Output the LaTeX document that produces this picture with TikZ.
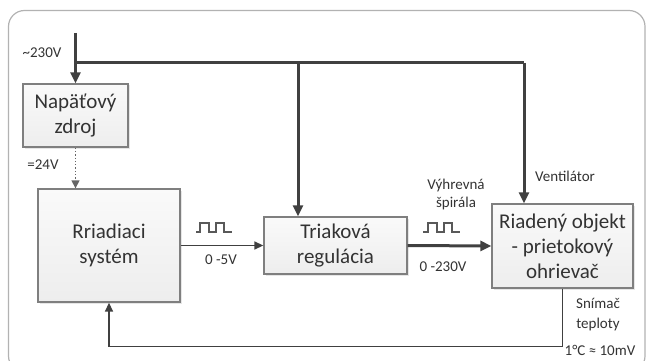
\documentclass[tikz,border=0pt]{standalone}
\usepackage{fontspec}
\setmainfont{Carlito}
\usetikzlibrary{arrows.meta,shadows}
\definecolor{ln}{HTML}{404040}
\definecolor{bd}{HTML}{7F7F7F}
\definecolor{tx}{HTML}{333333}
\tikzset{
  blk/.style={draw=bd, line width=1.3pt, top color=gray!4, bottom color=gray!14,
    inner sep=0pt, align=center, font=\fontsize{21}{25}\selectfont, text=tx,
    drop shadow={shadow xshift=1.5pt, shadow yshift=-1.5pt, opacity=0.2}},
  lbl/.style={font=\fontsize{15}{19}\selectfont, text=tx, inner sep=0pt, align=center},
  power/.style={draw=ln, line width=3pt, -{Triangle[length=11pt,width=10pt]}},
  bus/.style={draw=ln, line width=3pt},
  sig/.style={draw=ln, line width=1.4pt, -{Triangle[length=9pt,width=8pt]}},
  pulse/.style={draw=gray!70!black, line width=1.2pt},
}
\begin{document}
\begin{tikzpicture}[x=1pt,y=-1pt]
\useasboundingbox (0,0) rectangle (646,361);
\begin{scope}
\clip (0,0) rectangle (646,361);
\draw[gray!60, line width=1.2pt, rounded corners=16pt] (8.5,10.5) rectangle (645,372);
\end{scope}

% blocks
\node[blk, minimum width=105pt, minimum height=63pt] (nap) at (75.5,115.5) {Napäťový\\zdroj};
\node[blk, minimum width=142pt, minimum height=113pt] (rs) at (109,245.5) {Rriadiaci\\systém};
\node[blk, minimum width=143pt, minimum height=57pt] (tri) at (335.5,245.5) {Triaková\\regulácia};
\node[blk, minimum width=141pt, minimum height=84pt] (obj) at (562.5,246) {Riadený objekt\\- prietokový\\ohrievač};

% power lines
\coordinate (in) at (75.5,33);
\coordinate (j1) at (75.5,63);
\coordinate (j2) at (298,63);
\coordinate (j3) at (524,63);
\draw[power] (in) -- (nap.north);
\draw[bus] (j1) -- (j3);
\draw[power] (j2) -- (j2 |- tri.north);
\draw[power] (j3) -- (j3 |- obj.north);

% dotted supply
\draw[draw=ln!80, line width=1.3pt, dotted, -{Triangle[length=8pt,width=8pt]}] (nap.south) -- (nap.south |- rs.north);

% signals
\draw[sig] (rs.east) -- (tri.west);
\draw[power] (tri.east) -- (obj.west);
\draw[sig] (obj.south) -- ++(0,58) -| (rs.south);

% pulses
\draw[pulse] (196,232) -- (200,232) -- (200,223) -- (209,223) -- (209,232) -- (216,232) -- (216,223) -- (224,223) -- (224,232) -- (232,232);
\draw[pulse] (423,232) -- (428,232) -- (428,223) -- (437,223) -- (437,232) -- (444,232) -- (444,223) -- (452,223) -- (452,232) -- (460,232);

% labels
\node[lbl] (l230) at (42,53) {\textasciitilde230V};
\node[lbl] (l24) at (43,165) {=24V};
\node[lbl] (l5) at (221,260) {0 -5V};
\node[lbl] (lvs) at (456,195) {Výhrevná\\[-1pt]špirála};
\node[lbl] (l230b) at (443,267) {0 -230V};
\node[lbl] (lven) at (565,176) {Ventilátor};
\node[lbl] (lsn) at (598,315) {Snímač\\[1pt]teploty};
\node[lbl] (lmv) at (600,350) {1°C ≈ 10mV};
\end{tikzpicture}
\end{document}
